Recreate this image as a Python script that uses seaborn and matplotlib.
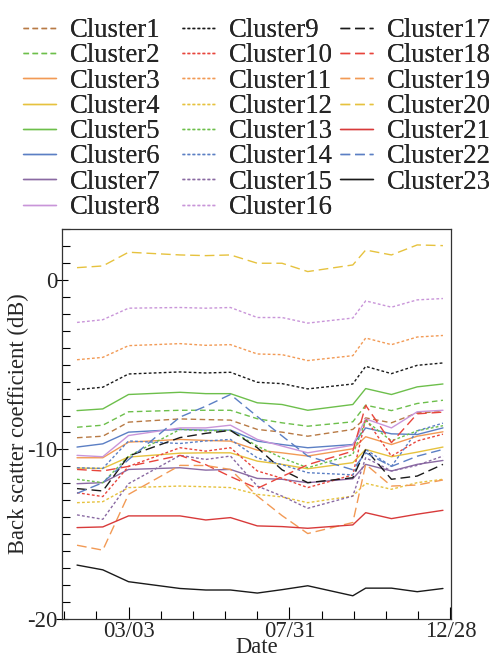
import numpy as np
import pandas as pd
import matplotlib
matplotlib.use("Agg")
import matplotlib.pyplot as plt
import seaborn as sns
from matplotlib.ticker import MultipleLocator, FixedLocator

# ---- data (day of year, backscatter dB) ----
days = [14, 38, 62, 110, 134, 157, 182, 205, 229, 271, 283, 307, 331, 355]
xtick_pos = [62, 212, 362]
xtick_labels = ["03/03", "07/31", "12/28"]

c1 = [-9.31, -9.22, -8.39, -8.20, -8.24, -8.27, -8.82, -8.98, -9.22, -8.82, -8.14, -8.43, -7.84, -7.78]
c2 = [-8.69, -8.57, -7.78, -7.69, -7.69, -7.69, -8.19, -8.43, -8.63, -8.37, -7.39, -7.71, -7.29, -7.10]
c3 = [-10.49, -10.49, -9.57, -9.41, -9.47, -9.51, -10.04, -10.20, -10.39, -9.96, -9.25, -9.71, -9.22, -8.96]
c4 = [-11.10, -11.12, -10.45, -10.22, -10.20, -10.20, -10.69, -10.88, -11.14, -10.78, -10.00, -10.43, -10.16, -9.86]
c5 = [-7.71, -7.61, -6.76, -6.63, -6.71, -6.71, -7.25, -7.35, -7.69, -7.35, -6.41, -6.76, -6.31, -6.14]
c6 = [-9.86, -9.67, -8.98, -8.82, -8.86, -8.86, -9.51, -9.71, -9.90, -9.71, -8.73, -9.08, -9.12, -8.73]
c7 = [-12.02, -11.96, -11.18, -11.08, -11.22, -11.18, -11.71, -11.76, -11.96, -11.73, -10.88, -11.27, -10.88, -10.65]
c8 = [-10.35, -10.43, -9.18, -8.73, -8.73, -8.57, -9.41, -9.80, -10.20, -9.75, -8.20, -8.73, -7.78, -7.69]
c9 = [-6.47, -6.33, -5.55, -5.43, -5.49, -5.45, -6.04, -6.12, -6.43, -6.14, -5.10, -5.53, -5.04, -4.90]
c10 = [-12.55, -12.78, -11.00, -9.90, -10.10, -9.90, -11.27, -11.70, -12.25, -11.50, -8.20, -10.40, -9.50, -9.10]
c11 = [-4.71, -4.57, -3.88, -3.76, -3.86, -3.82, -4.37, -4.41, -4.76, -4.47, -3.43, -3.82, -3.37, -3.28]
c12 = [-13.14, -13.08, -12.25, -12.16, -12.20, -12.25, -12.65, -12.80, -13.14, -12.75, -12.00, -12.35, -11.96, -11.76]
c13 = [-11.76, -11.96, -10.40, -8.82, -8.90, -8.88, -9.80, -10.50, -11.08, -10.30, -8.30, -9.50, -8.90, -8.60]
c14 = [-11.08, -11.12, -9.50, -9.65, -9.50, -9.41, -10.50, -10.90, -11.37, -11.50, -10.00, -11.00, -8.90, -8.45]
c15 = [-13.86, -14.12, -12.02, -10.35, -10.59, -10.39, -12.16, -12.75, -13.47, -12.75, -10.49, -11.27, -10.94, -10.39]
c16 = [-2.51, -2.35, -1.67, -1.63, -1.67, -1.63, -2.22, -2.22, -2.55, -2.25, -1.24, -1.61, -1.18, -1.10]
c17 = [-12.31, -12.45, -10.39, -9.30, -9.05, -8.88, -9.90, -11.20, -11.96, -11.67, -10.00, -11.76, -11.57, -10.88]
c18 = [-11.18, -11.27, -11.00, -10.35, -10.90, -11.60, -12.30, -11.60, -10.90, -10.10, -7.40, -9.60, -7.90, -7.80]
c19 = [-15.65, -15.94, -12.65, -10.94, -10.95, -11.18, -12.75, -13.90, -14.96, -14.31, -10.88, -12.16, -12.10, -11.80]
c20 = [0.72, 0.82, 1.63, 1.47, 1.43, 1.47, 0.98, 0.98, 0.49, 0.88, 1.76, 1.47, 2.06, 2.02]
c21 = [-14.61, -14.57, -13.92, -13.92, -14.16, -14.02, -14.51, -14.55, -14.65, -14.45, -13.73, -14.08, -13.82, -13.59]
c22 = [-12.59, -11.96, -10.60, -8.09, -7.45, -6.76, -8.06, -9.20, -10.39, -11.20, -10.20, -11.00, -10.40, -10.00]
c23 = [-16.82, -17.10, -17.80, -18.20, -18.29, -18.29, -18.47, -18.27, -18.04, -18.63, -18.18, -18.18, -18.39, -18.20]

series = [c1, c2, c3, c4, c5, c6, c7, c8, c9, c10, c11, c12, c13, c14, c15, c16,
          c17, c18, c19, c20, c21, c22, c23]
names = [f"Cluster{i}" for i in range(1, 24)]

# ---- styles ----
BLACK, RED, ORANGE, YELLOW = "#1a1a1a", "#e8453c", "#f29a55", "#e6c23e"
GREEN, BLUE, PURPLE, PINK, BROWN = "#6dbf4b", "#5b7fc4", "#8a6aa3", "#c995d9", "#b87a45"
colors = [BROWN, GREEN, ORANGE, YELLOW, GREEN, BLUE, PURPLE, PINK,
          BLACK, RED, ORANGE, YELLOW, GREEN, BLUE, PURPLE, PINK,
          BLACK, RED, ORANGE, YELLOW, "#d83a3a", BLUE, BLACK]
DASH = (4, 2.5)
DOT = (2, 1.6)
LONG = (7, 3.5)
styles = [DASH, DASH, "", "", "", "", "", "",
          DOT, DOT, DOT, DOT, DOT, DOT, DOT, DOT,
          LONG, LONG, LONG, LONG, "", LONG, ""]

df = pd.DataFrame({
    "day": np.tile(days, len(series)),
    "value": np.concatenate(series),
    "cluster": np.repeat(names, len(days)),
})

sns.set_style("ticks")
plt.rcParams["font.family"] = ["Liberation Serif", "DejaVu Serif"]
plt.rcParams["axes.unicode_minus"] = False

fig = plt.figure(figsize=(4.91, 6.59), dpi=100)
ax = fig.add_axes([62 / 491, 1 - 619 / 659, 389 / 491, 390 / 659])

sns.lineplot(data=df, x="day", y="value", hue="cluster", style="cluster",
             palette=dict(zip(names, colors)), dashes=dict(zip(names, styles)),
             linewidth=1.0, ax=ax, legend="full")

handles, labels = ax.get_legend_handles_labels()
ax.get_legend().remove()
for h in handles:
    h.set_linewidth(1.0)

col_x = [23 / 491, 182 / 491, 340 / 491]
groups = [(0, 8), (8, 16), (16, 23)]
for cx, (a, b) in zip(col_x, groups):
    leg = fig.legend(handles[a:b], labels[a:b], loc="upper left",
                     bbox_to_anchor=(cx, 0.9725), ncol=1, frameon=False,
                     fontsize=19.3, labelspacing=0.01, handlelength=1.23,
                     handletextpad=0.52, borderpad=0, borderaxespad=0)
    fig.add_artist(leg)

ax.set_xlim(0, 362.5)
ax.set_ylim(-20, 3)
ax.xaxis.set_major_locator(FixedLocator(xtick_pos))
ax.set_xticklabels(xtick_labels)
ax.xaxis.set_minor_locator(FixedLocator(list(range(2, 363, 30))))
ax.yaxis.set_major_locator(FixedLocator([-20, -10, 0]))
ax.yaxis.set_minor_locator(MultipleLocator(1))
ax.tick_params(axis="both", which="major", labelsize=16.3, direction="in", length=9,
               width=0.8, color="black", pad=1.5)
ax.tick_params(axis="y", which="major", direction="inout", length=9, pad=-1)
ax.tick_params(axis="both", which="minor", direction="in", length=6, width=0.8, color="black")
for s in ax.spines.values():
    s.set_linewidth(0.9)
    s.set_color("#333333")

ax.set_xlabel("Date", fontsize=16.3, labelpad=-3.5)
ax.set_ylabel("Back scatter coefficient (dB)", fontsize=16.3)
ax.yaxis.set_label_coords(-0.084, 0.5)

fig.savefig("out.png", dpi=100)
